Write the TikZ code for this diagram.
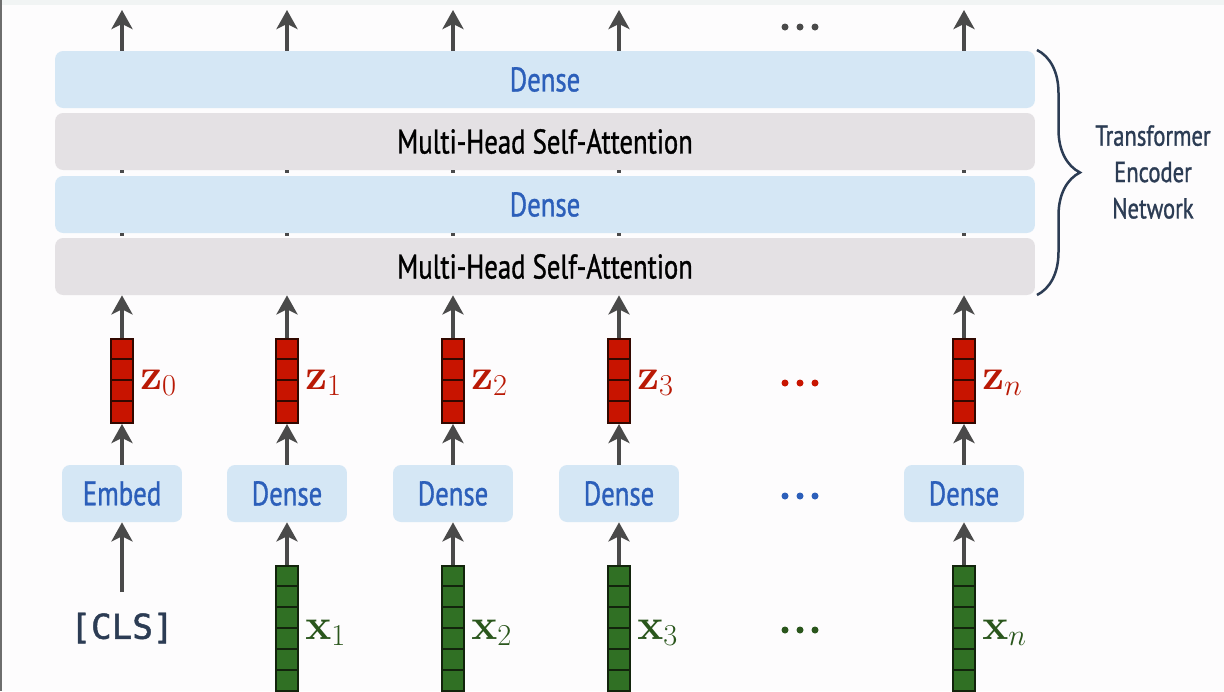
\documentclass[tikz,border=0pt]{standalone}
\usepackage{amsmath}
\usepackage[no-math]{fontspec}
\setmainfont{PT Sans}
\newfontfamily\layerfont[FakeStretch=0.78, FakeBold=1]{PT Sans}
\newfontfamily\codefont[FakeBold=1.4]{DejaVu Sans Mono}
\usetikzlibrary{arrows.meta,calc,decorations.pathreplacing}
\definecolor{bgC}{RGB}{253,252,253}
\definecolor{stripC}{RGB}{241,244,244}
\definecolor{edgeC}{RGB}{110,110,110}
\definecolor{arrowC}{RGB}{74,74,74}
\definecolor{denseF}{RGB}{213,231,245}
\definecolor{denseT}{RGB}{44,95,186}
\definecolor{attF}{RGB}{228,225,228}
\definecolor{zF}{RGB}{200,20,0}
\definecolor{zD}{RGB}{50,8,0}
\definecolor{zT}{RGB}{185,25,5}
\definecolor{xF}{RGB}{48,112,36}
\definecolor{xD}{RGB}{18,36,12}
\definecolor{xT}{RGB}{42,86,28}
\definecolor{slate}{RGB}{44,60,84}
\tikzset{
  flow/.style={-{Stealth[length=0.38cm, width=0.42cm, inset=0.1cm]}, line width=0.08cm, arrowC},
  stub/.style={line width=0.07cm, arrowC},
  layer/.style={rounded corners=0.16cm, minimum width=19.6cm, minimum height=1.14cm, inner sep=0pt,
    font=\layerfont\fontsize{19.5}{21}\selectfont},
  denseL/.style={layer, fill=denseF, text=denseT},
  attL/.style={layer, fill=attF, text=black},
  embedL/.style={denseL, minimum width=2.4cm},
  zvec/.style={draw=zD, fill=zF, line width=0.04cm, minimum width=0.44cm, minimum height=1.68cm, inner sep=0pt},
  xvec/.style={draw=xD, fill=xF, line width=0.04cm, minimum width=0.44cm, minimum height=2.94cm, inner sep=0pt},
  zlab/.style={text=zT, font=\fontsize{23.5}{26}\selectfont, inner sep=0pt},
  xlab/.style={text=xT, font=\fontsize{23.5}{26}\selectfont, inner sep=0pt},
}

\begin{document}
\begin{tikzpicture}[x=0.02cm, y=-0.02cm]
  \useasboundingbox (0,0) rectangle (1224,691);
  \fill[bgC] (0,0) rectangle (1224,691);
  \fill[stripC] (0,0) rectangle (1224,5);
  \fill[edgeC] (0,0) rectangle (2.5,691);
  % encoder layers
  \node[denseL] (top1) at (545,79.5) {Dense};
  \node[attL] (att1) at (545,141.5) {Multi-Head Self-Attention};
  \node[denseL] (dense2) at (545,204.5) {Dense};
  \node[attL] (att2) at (545,266.5) {Multi-Head Self-Attention};
  \draw[decorate, decoration={brace, amplitude=0.86cm}, line width=0.05cm, slate]
    (1037,50) -- (1037,295);
  \node[text=slate, align=center, font=\layerfont\fontsize{16.5}{20.7}\selectfont] (enc) at (1153,172)
    {Transformer\\Encoder\\Network};
  % token columns
  \foreach \c/\i/\t in {122/0/Embed, 287/1/Dense, 453/2/Dense, 619/3/Dense, 964/n/Dense} {
    \coordinate (out\i) at (\c,10);
    \draw[flow] (top1.north -| out\i) -- (out\i);
    \draw[stub] (att1.south -| out\i) -- ++(0,2.5);
    \draw[stub] (dense2.south -| out\i) -- ++(0,2.5);
    \node[zvec] (z\i) at (\c,381) {};
    \foreach \k in {1,2,3}
      \draw[zD, line width=0.04cm] ($(z\i.north west)+(0,21*\k)$) -- ++(22,0);
    \node[zlab, anchor=base west] (zl\i) at ($(z\i.east)+(6,8)$) {$\mathbf{z}_\i$};
    \node[embedL] (d\i) at (\c,493.5) {\t};
    \draw[flow] (z\i.north) -- (z\i.north |- att2.south);
    \draw[flow] (d\i.north) -- (z\i.south);
  }
  \foreach \c/\i in {287/1, 453/2, 619/3, 964/n} {
    \node[xvec, anchor=north] (x\i) at (\c,565) {};
    \foreach \k in {1,...,6}
      \draw[xD, line width=0.04cm] ($(x\i.north west)+(0,21*\k)$) -- ++(22,0);
    \node[xlab, anchor=base west] (xl\i) at ($(x\i.north east)+(6,74)$) {$\mathbf{x}_\i$};
    \draw[flow] (x\i.north) -- (d\i.south);
  }
  \node[text=slate, font=\codefont\fontsize{19.5}{20}\selectfont] (cls) at (122,628) {[CLS]};
  \coordinate (clsTop) at (122,592);
  \draw[flow] (clsTop) -- (d0.south);
  % ellipses
  \foreach \dx in {-15,0,15} {
    \fill[arrowC] (800+\dx,27) circle (3.5);
    \fill[zF] (800+\dx,383) circle (3.5);
    \fill[denseT] (800+\dx,496) circle (3.5);
    \fill[xT] (800+\dx,630) circle (3.5);
  }
\end{tikzpicture}
\end{document}
